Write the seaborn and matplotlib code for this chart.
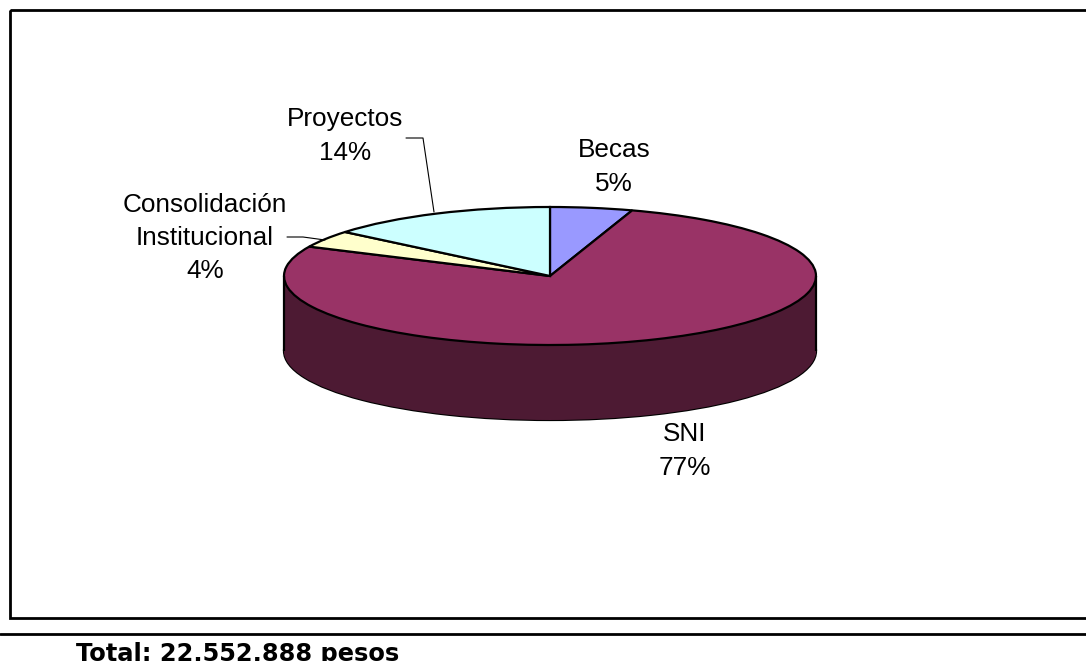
import matplotlib
matplotlib.use('Agg')
import matplotlib.pyplot as plt
from matplotlib.patches import Rectangle
import numpy as np
import seaborn as sns

# data, clockwise from the top
categories = ['Becas', 'SNI', 'Consolidación\nInstitucional', 'Proyectos']
shares = [5, 77, 4, 14]
top_colors = ['#9999FF', '#993366', '#FFFFCC', '#CCFFFF']
wall_color = '#4D1A33'
total_text = 'Total: 22,552,888 pesos'

# pixel layout of the picture
W, H = 1086, 661
cx, cy = 550, 276
rx, ry = 266, 69
depth_px = 75

sns.set_theme(style='white')
plt.rcParams['font.family'] = ['Liberation Sans', 'DejaVu Sans']

fig = plt.figure(figsize=(W / 100, H / 100), dpi=100, facecolor='white')

# pie axes: stretched so the unit circle becomes the flat ellipse
ax = fig.add_axes([0, 0, 1, 1])
depth = depth_px / ry
pie_args = dict(startangle=90, counterclock=False)

# side wall, a stack of dark pies going down
ax.pie([1], colors=[wall_color], center=(0, -depth), startangle=0,
       wedgeprops=dict(edgecolor='black', linewidth=1.6))
for off in np.linspace(depth, 0, depth_px + 1):
    ax.pie([1], colors=[wall_color], center=(0, -off), startangle=0,
           wedgeprops=dict(edgecolor='none', linewidth=0))
for side in [-1, 1]:
    ax.plot([side, side], [0, -depth], color='black', lw=1.6, solid_capstyle='butt')

# top face
ax.pie(shares, colors=sns.color_palette(top_colors), center=(0, 0),
       wedgeprops=dict(edgecolor='black', linewidth=1.6), **pie_args)
ax.set_aspect('auto')
ax.set_xlim(-cx / rx, (W - cx) / rx)
ax.set_ylim(-(H - cy) / ry, cy / ry)

# overlay in pixel coordinates for frame, labels and leader lines
ov = fig.add_axes([0, 0, 1, 1], facecolor='none')
ov.set_xlim(0, W)
ov.set_ylim(H, 0)
ov.axis('off')

ov.add_patch(Rectangle((10, 10), W + 40, 608, fill=False, edgecolor='black', linewidth=2))
ov.plot([0, W], [633.5, 633.5], color='black', lw=2)

label_pos = [(614, 167), (685, 451), (205, 238), (345, 136)]
for name, pct, (lx, ly) in zip(categories, shares, label_pos):
    ov.text(lx, ly, f'{name}\n{pct}%', ha='center', va='center', fontsize=18.8,
            color='black', linespacing=1.5)

ov.plot([406, 423, 434], [138, 138, 212], color='black', lw=0.8)
ov.plot([287, 303, 325], [237, 237, 240], color='black', lw=0.8)

ov.text(76, 661, total_text, ha='left', va='baseline', fontsize=17.4, fontweight='bold',
        family='DejaVu Sans', color='black')

fig.savefig('out.png', dpi=100)
